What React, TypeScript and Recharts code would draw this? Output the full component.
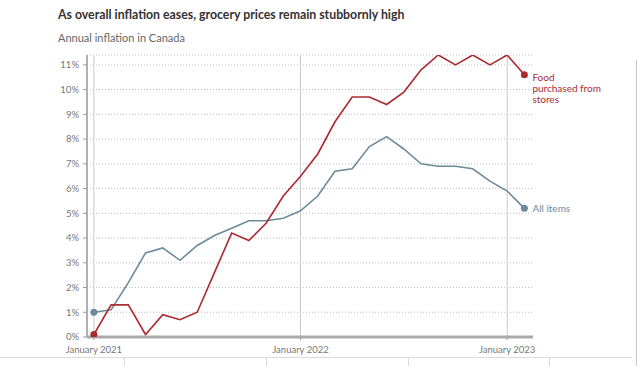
import React from 'react';
import {
  LineChart, Line, XAxis, YAxis, CartesianGrid, ReferenceLine, LabelList,
} from 'recharts';

const months = [
  '2021-01', '2021-02', '2021-03', '2021-04', '2021-05', '2021-06',
  '2021-07', '2021-08', '2021-09', '2021-10', '2021-11', '2021-12',
  '2022-01', '2022-02', '2022-03', '2022-04', '2022-05', '2022-06',
  '2022-07', '2022-08', '2022-09', '2022-10', '2022-11', '2022-12',
  '2023-01', '2023-02',
];
const allItems = [
  1.0, 1.1, 2.2, 3.4, 3.6, 3.1, 3.7, 4.1, 4.4, 4.7, 4.7, 4.8,
  5.1, 5.7, 6.7, 6.8, 7.7, 8.1, 7.6, 7.0, 6.9, 6.9, 6.8, 6.3,
  5.9, 5.2,
];
const foodStores = [
  0.1, 1.3, 1.3, 0.1, 0.9, 0.7, 1.0, 2.6, 4.2, 3.9, 4.6, 5.7,
  6.5, 7.4, 8.7, 9.7, 9.7, 9.4, 9.9, 10.8, 11.4, 11.0, 11.4, 11.0,
  11.4, 10.6,
];
const yTicks = [0, 1, 2, 3, 4, 5, 6, 7, 8, 9, 10, 11];
const monthNames = ['January', 'February', 'March', 'April', 'May', 'June', 'July',
  'August', 'September', 'October', 'November', 'December'];

const RED = '#ab2a30';
const BLUE = '#6c8b9b';
const FONT = 'Lato, "Open Sans", sans-serif';

const data = months.map((m, i) => ({ i, m, all: allItems[i], food: foodStores[i] }));
const janTicks = data.filter(d => d.m.endsWith('-01')).map(d => d.i);
const last = data.length - 1;

const fmtMonth = (i: number) => {
  const [y, mo] = months[i].split('-');
  return `${monthNames[Number(mo) - 1]} ${y}`;
};

const endDot = (color: string) => (props: any) => {
  const { cx, cy, index } = props;
  if (index !== 0 && index !== last) return <g key={`d${index}`} />;
  return <circle key={`d${index}`} cx={cx} cy={cy} r={3.5} fill={color} stroke="none" />;
};

const endLabel = (lines: string[], color: string, dy: number) => (props: any) => {
  const { x, y, index } = props;
  if (index !== last) return null;
  return (
    <text x={x + 8} y={y + dy} fill={color} fontSize={10} fontFamily={FONT}>
      {lines.map((l, k) => (
        <tspan key={k} x={x + 8} dy={k === 0 ? 0 : 11.3}>{l}</tspan>
      ))}
    </text>
  );
};

export default function App() {
  return (
    <div style={{ position: 'absolute', left: 0, top: 0, width: 638, height: 366, background: '#fff', overflow: 'hidden' }}>
      <div style={{ position: 'absolute', left: 58, top: 7, fontFamily: FONT, fontWeight: 700, fontSize: 12.3, color: '#333', whiteSpace: 'nowrap' }}>
        As overall inflation eases, grocery prices remain stubbornly high
      </div>
      <div style={{ position: 'absolute', left: 58, top: 31, fontFamily: FONT, fontSize: 11, color: '#666', whiteSpace: 'nowrap' }}>
        Annual inflation in Canada
      </div>
      <LineChart width={638} height={366} data={data} margin={{ top: 55, right: 105, bottom: 7, left: 0 }}>
        <CartesianGrid vertical={false} stroke="#bdbdbd" strokeDasharray="1 2" />
        {janTicks.map(t => (
          <ReferenceLine key={t} x={t} stroke="#c9c9c9" strokeWidth={1} />
        ))}
        <XAxis
          type="number"
          dataKey="i"
          domain={[-0.4, 25.5]}
          allowDataOverflow
          ticks={janTicks}
          tickFormatter={fmtMonth}
          height={22}
          tickSize={3}
          tickMargin={6}
          axisLine={{ stroke: '#aaaaaa', strokeWidth: 3 }}
          tickLine={{ stroke: '#999' }}
          tick={{ fill: '#777', fontSize: 9.5, fontFamily: FONT }}
        />
        <YAxis
          domain={[0, 11.4]}
          allowDataOverflow
          ticks={yTicks}
          tickFormatter={(v: number) => `${v}%`}
          width={87}
          tickSize={4}
          tickMargin={4}
          axisLine={{ stroke: '#b0b0b0', strokeWidth: 2 }}
          tickLine={{ stroke: '#999' }}
          tick={{ fill: '#777', fontSize: 9.5, fontFamily: FONT }}
        />
        <Line
          type="linear"
          dataKey="all"
          stroke={BLUE}
          strokeWidth={1.6}
          dot={endDot(BLUE)}
          activeDot={false}
          isAnimationActive={false}
        >
          <LabelList dataKey="all" content={endLabel(['All items'], BLUE, 4)} />
        </Line>
        <Line
          type="linear"
          dataKey="food"
          stroke={RED}
          strokeWidth={1.6}
          dot={endDot(RED)}
          activeDot={false}
          isAnimationActive={false}
        >
          <LabelList dataKey="food" content={endLabel(['Food', 'purchased from', 'stores'], RED, 6)} />
        </Line>
      </LineChart>
      {/* page frame leftovers */}
      <div style={{ position: 'absolute', left: 0, top: 357, width: 632, height: 1, background: '#dcdcdc' }} />
      <div style={{ position: 'absolute', left: 636, top: 60, width: 1, height: 306, background: '#c8c8c8' }} />
      {[124, 266, 408, 549].map(x => (
        <div key={x} style={{ position: 'absolute', left: x, top: 358, width: 1, height: 8, background: '#dcdcdc' }} />
      ))}
    </div>
  );
}
